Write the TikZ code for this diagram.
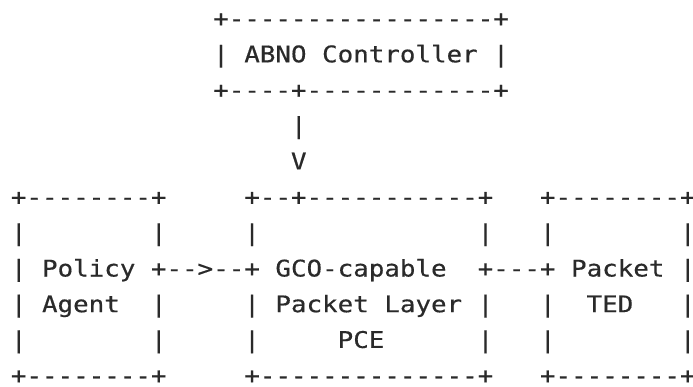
\documentclass[tikz,border=0pt]{standalone}
\usepackage{fontspec}
\setmonofont[FakeStretch=1.1286,FakeBold=0.4]{DejaVu Sans Mono}
\definecolor{txt}{HTML}{2A2A2A}
\tikzset{asc/.style={inner sep=0pt, outer sep=0pt, anchor=base west, text=txt,
  font=\ttfamily\fontsize{22.9pt}{22.9pt}\selectfont}}
\newcommand\seg[3]{\node[asc] (r#1c#2) at ({10.92+15.56*#2},{386-(26.6+35.7*#1)}) {#3};}
\begin{document}
\begin{tikzpicture}[x=1pt,y=1pt]
\useasboundingbox (0,0) rectangle (693,386);
\fill[white] (0,0) rectangle (693,386);
% rows 0-4: ABNO controller and downward arrow
\seg{0}{13}{+-----------------+}
\seg{1}{13}{|}\seg{1}{15}{ABNO}\seg{1}{20}{Controller}\seg{1}{31}{|}
\seg{2}{13}{+----+------------+}
\seg{3}{18}{|}
\seg{4}{18}{V}
% rows 5-10: the three boxes
\seg{5}{0}{+--------+}\seg{5}{15}{+--+-----------+}\seg{5}{34}{+--------+}
\seg{6}{0}{|}\seg{6}{9}{|}\seg{6}{15}{|}\seg{6}{30}{|}\seg{6}{34}{|}\seg{6}{43}{|}
\seg{7}{0}{|}\seg{7}{2}{Policy}\seg{7}{9}{+-->--+}\seg{7}{17}{GCO-capable}\seg{7}{30}{+---+}\seg{7}{36}{Packet}\seg{7}{43}{|}
\seg{8}{0}{|}\seg{8}{2}{Agent}\seg{8}{9}{|}\seg{8}{15}{|}\seg{8}{17}{Packet}\seg{8}{24}{Layer}\seg{8}{30}{|}\seg{8}{34}{|}\seg{8}{37}{TED}\seg{8}{43}{|}
\seg{9}{0}{|}\seg{9}{9}{|}\seg{9}{15}{|}\seg{9}{21}{PCE}\seg{9}{30}{|}\seg{9}{34}{|}\seg{9}{43}{|}
\seg{10}{0}{+--------+}\seg{10}{15}{+--------------+}\seg{10}{34}{+--------+}
\end{tikzpicture}
\end{document}
